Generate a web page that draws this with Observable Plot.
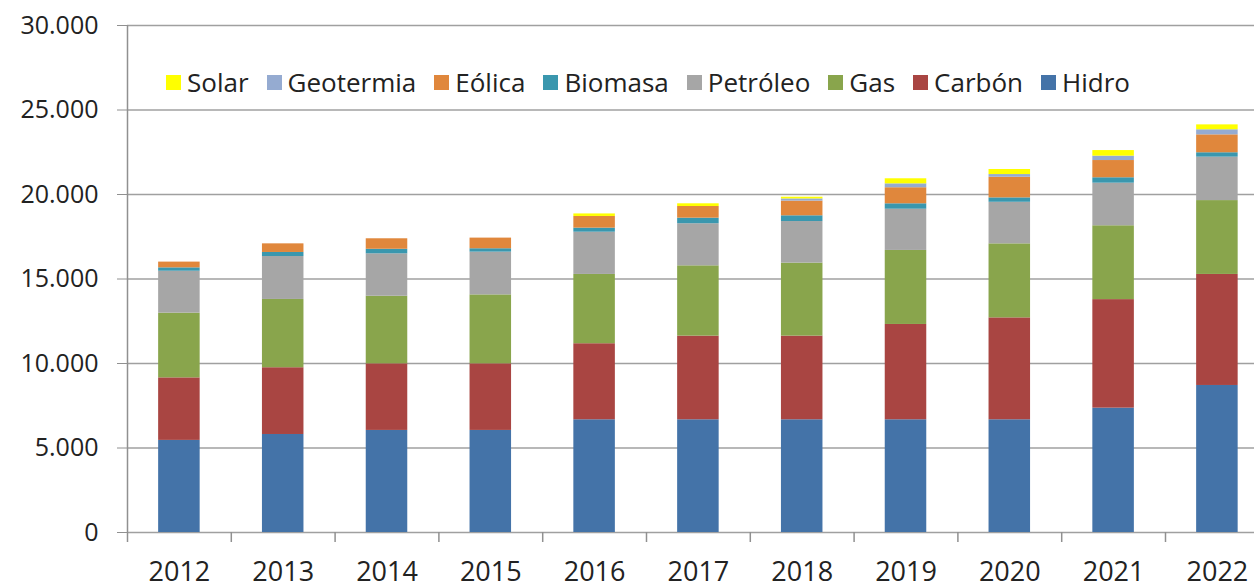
<!DOCTYPE html>
<html>
<head>
<meta charset="utf-8">
<script src="https://cdn.jsdelivr.net/npm/d3@7"></script>
<script src="https://cdn.jsdelivr.net/npm/@observablehq/plot@0.6"></script>
<style>
  html, body { margin: 0; padding: 0; background: #fff; overflow: hidden; }
  #wrap { position: relative; width: 1254px; height: 587px; font-family: "Open Sans", sans-serif; }
  #legend { position: absolute; left: 166px; top: 64px; display: flex; align-items: center; font-size: 26px; color: #222; white-space: nowrap; }
  .item { display: flex; align-items: center; margin-right: 18px; }
  .sw { width: 15px; height: 15px; margin-right: 6px; }
</style>
</head>
<body>
<div id="wrap"><div id="legend"></div></div>
<script>
const years = ["2012","2013","2014","2015","2016","2017","2018","2019","2020","2021","2022"];
const seriesNames = ["Hidro","Carbón","Gas","Petróleo","Biomasa","Eólica","Geotermia","Solar"];
const seriesColors = ["#4473a8","#a94542","#89a54c","#a6a6a6","#3a97ae","#e0873c","#95abd1","#ffff00"];
const hidro     = [5450, 5800, 6040, 6040, 6670, 6670, 6670, 6670, 6670, 7360, 8700];
const carbon    = [3700, 3950, 3940, 3940, 4500, 4950, 4950, 5640, 6030, 6420, 6570];
const gas       = [3830, 4040, 4000, 4080, 4100, 4160, 4320, 4380, 4380, 4370, 4370];
const petroleo  = [2480, 2540, 2510, 2530, 2500, 2490, 2460, 2440, 2460, 2520, 2570];
const biomasa   = [200, 240, 270, 200, 240, 330, 340, 320, 260, 320, 260];
const eolica    = [340, 510, 620, 630, 690, 690, 870, 950, 1220, 1020, 1060];
const geotermia = [0, 0, 0, 0, 0, 0, 130, 230, 160, 260, 300];
const solar     = [0, 0, 0, 0, 150, 160, 100, 300, 300, 330, 290];
const yTicks = [0, 5000, 10000, 15000, 20000, 25000, 30000];

const seriesValues = [hidro, carbon, gas, petroleo, biomasa, eolica, geotermia, solar];
const rows = [];
years.forEach((yr, i) => {
  seriesNames.forEach((s, k) => rows.push({year: yr, source: s, value: seriesValues[k][i]}));
});

const fmt = d3.formatLocale({decimal: ",", thousands: ".", grouping: [3], currency: ["", ""]}).format(",");

const left = 127, step = 103.8;
const chart = Plot.plot({
  width: 1254,
  height: 587,
  marginLeft: left,
  marginRight: 0,
  marginTop: 25,
  marginBottom: 55,
  style: {fontFamily: "Open Sans, sans-serif", background: "#fff"},
  x: {type: "band", domain: years, range: [left, left + step * years.length], paddingInner: 0.6, paddingOuter: 0.3, round: false, axis: null, label: null},
  y: {domain: [0, 30000], range: [532, 25], axis: null, label: null},
  color: {domain: seriesNames, range: seriesColors},
  marks: [
    Plot.gridY(yTicks, {stroke: "#a0a0a0", strokeOpacity: 1, strokeWidth: 1.5}),
    Plot.axisY(yTicks, {tickSize: 10, tickPadding: 19, tickFormat: fmt, fontSize: 25, stroke: "#909090", fill: "#222", label: null}),
    Plot.ruleX([years[0]], {dx: -step / 2, y1: 0, y2: 30000, stroke: "#909090", strokeWidth: 1.5}),
    Plot.axisX({tickSize: 10, tickFormat: () => "", dx: -step / 2, stroke: "#909090", strokeWidth: 1.5, label: null}),
    Plot.axisX({tickSize: 0, tickPadding: 29, fontSize: 27, fill: "#222", label: null}),
    Plot.barY(rows, {x: "year", y: "value", fill: "source"})
  ]
});
document.getElementById("wrap").prepend(chart);

const legend = document.getElementById("legend");
const legendOrder = [...seriesNames.keys()].reverse();
legendOrder.forEach(k => {
  const it = document.createElement("div");
  it.className = "item";
  const sw = document.createElement("span");
  sw.className = "sw";
  sw.style.background = seriesColors[k];
  const tx = document.createElement("span");
  tx.textContent = seriesNames[k];
  it.append(sw, tx);
  legend.append(it);
});
</script>
</body>
</html>
